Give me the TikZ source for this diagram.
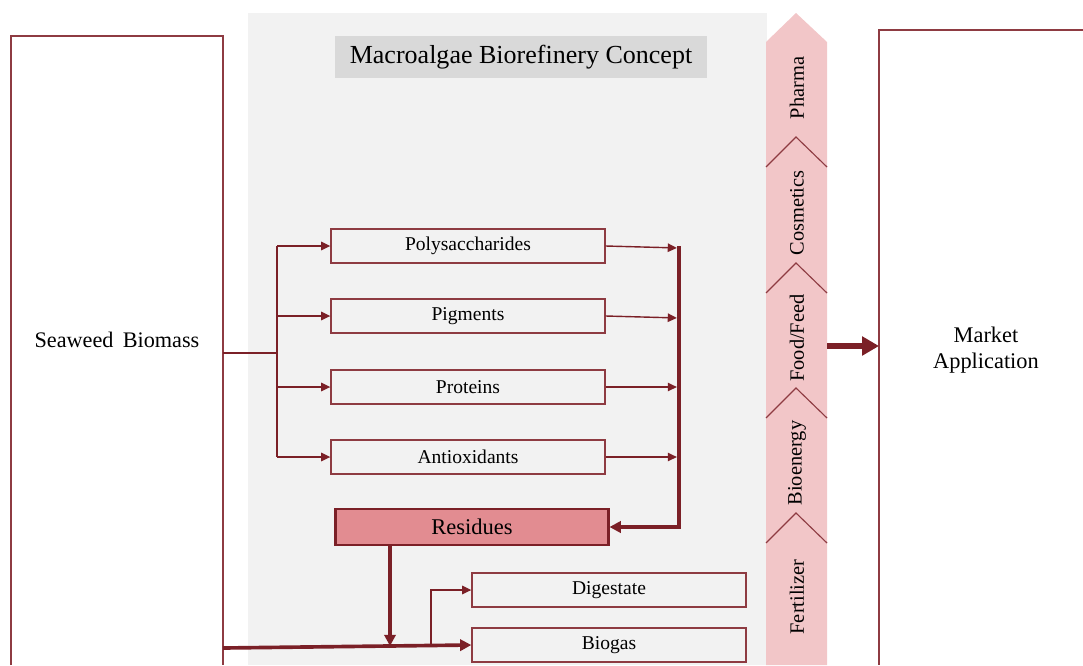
\documentclass[tikz,border=0pt]{standalone}
\usepackage{fontspec}
\setmainfont{Liberation Serif}
\usetikzlibrary{arrows.meta}
\definecolor{wine}{HTML}{7B2027}
\definecolor{boxline}{HTML}{8E3B42}
\definecolor{bandpink}{HTML}{F2C6C8}
\definecolor{resfill}{HTML}{E28C91}
\definecolor{bggray}{HTML}{F2F2F2}
\definecolor{titlegray}{HTML}{D9D9D9}
\tikzset{
  prodbox/.style={draw=boxline, line width=0.9pt, minimum width=6.85cm, minimum height=0.85cm, inner sep=0pt, font=\fontsize{13.9}{16}\selectfont},
  resbox/.style={draw=wine, fill=resfill, line width=2.1pt, minimum width=6.8cm, minimum height=0.9cm, inner sep=0pt, font=\fontsize{16}{18}\selectfont},
  flow/.style={draw=wine, line width=1pt, -{Triangle[length=6.5pt,width=6pt]}},
  bigflow/.style={draw=wine, line width=2.6pt, -{Triangle[length=8pt,width=8pt]}},
  sideline/.style={draw=boxline, line width=1pt},
  bandtext/.style={rotate=90, font=\fontsize{14.5}{16}\selectfont}
}
\begin{document}
\begin{tikzpicture}[x=0.025cm, y=-0.025cm]
\useasboundingbox (0,0) rectangle (1083,665);
% Background of the concept
\fill[bggray] (248,13) rectangle (767,665);
% Left and right boxes (open at the bottom)
\fill[white] (11,36) rectangle (223,665);
\draw[sideline] (11,665) -- (11,36) -- (223,36) -- (223,665);
\node[font=\fontsize{15.8}{18}\selectfont] (biomass) at (117,340) {Seaweed\ \,Biomass};
\draw[sideline] (1083,30) -- (879,30) -- (879,665);
\node[font=\fontsize{15.9}{19}\selectfont, align=center] (market) at (986,350) {Market\\Application};
% Title
\node[fill=titlegray, minimum width=9.3cm, minimum height=1.03cm, font=\fontsize{18.5}{20}\selectfont] (title) at (521,57) {Macroalgae Biorefinery Concept};
% The arrow band of applications
\fill[bandpink] (766,665) -- (766,42) -- (796,13) -- (827,42) -- (827,665) -- cycle;
\foreach \y in {167,293,418,543}
{
  \draw[boxline, line width=0.8pt] (766,\y) -- (796,\y-30) -- (827,\y);
}
\foreach \t/\y [count=\i] in {Pharma/88, Cosmetics/213, Food\slash Feed/338, Bioenergy/463, Fertilizer/597}
{
  \node[bandtext] (app\i) at (797,\y) {\t};
}
\coordinate (bandout) at (827,346);
\coordinate (marketin) at (879,346);
\draw[draw=wine, line width=3.6pt, -{Triangle[length=12pt,width=13pt]}] (bandout) -- (marketin);
% Products
\foreach \t/\y/\d [count=\i] in {Polysaccharides/246/2, Pigments/316/2, Proteins/387/0, Antioxidants/457/0}
{
  \node[prodbox] (p\i) at (468,\y) {\t};
  \coordinate (l\i) at (277,\y);
  \coordinate (r\i) at (679,\y+\d);
  \draw[flow] (l\i) -- (p\i.west);
  \draw[flow, shorten >=1.5pt] (p\i.east) -- (r\i);
}
\coordinate (split) at (277,353);
\coordinate (biomassout) at (223,353);
\draw[draw=wine, line width=1pt] (biomassout) -- (split);
\draw[draw=wine, line width=1pt] (l1) -- (l4);
% Residues
\node[resbox] (res) at (472,527) {Residues};
\coordinate (rtop) at (679,246);
\coordinate (rbot) at (679,527);
\draw[bigflow, line width=2.8pt] (rtop) -- (rbot) -- (res.east);
% Digestion
\node[prodbox] (dig) at (609,590) {Digestate};
\node[prodbox] (gas) at (609,645) {Biogas};
\coordinate (feed) at (223,648);
\coordinate (join) at (390,646);
\coordinate (fork) at (431,645);
\draw[bigflow] (feed) -- (gas.west);
\draw[bigflow] (res.south -| join) -- (join);
\draw[flow] (fork) |- (dig.west);
\end{tikzpicture}
\end{document}
